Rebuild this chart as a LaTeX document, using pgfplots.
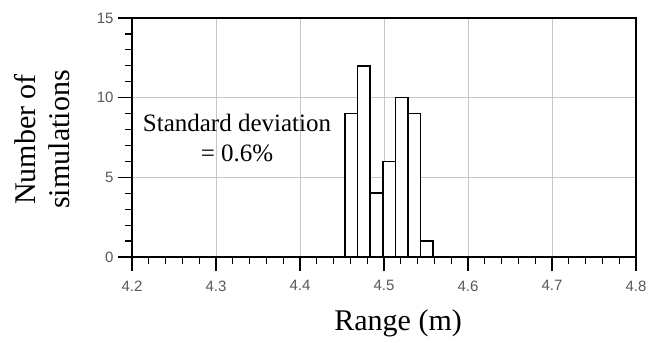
\documentclass[border=0pt]{standalone}
\usepackage{fontspec}
\setmainfont{Liberation Serif}
\newfontfamily\tickfont{Liberation Sans}
\usepackage{pgfplots}
\pgfplotsset{compat=1.18}
\begin{document}
\begin{tikzpicture}
\begin{axis}[
  scale only axis,
  width=504bp, height=239bp,
  xmin=4.2, xmax=4.8, ymin=0, ymax=15,
  xtick={4.2,4.3,4.4,4.5,4.6,4.7,4.8},
  xticklabels={4.2,4.3,4.4,4.5,4.6,4.7,4.8},
  ytick={0,5,10,15},
  yticklabels={0,5,10,15},
  minor x tick num=4, minor y tick num=4,
  tick align=outside,
  major tick length=14bp, minor tick length=7bp,
  xtick pos=lower, ytick pos=left,
  axis line style={line width=1.4bp, black},
  every tick/.style={line width=1.2bp, black},
  grid=major,
  major grid style={line width=0.9bp, gray!45},
  ticklabel style={font=\tickfont\fontsize{15bp}{15bp}\selectfont, text=black!65},
  xticklabel style={yshift=-6bp},
  yticklabel style={xshift=-1bp},
  xlabel={Range (m)},
  ylabel={Number of\\simulations},
  xlabel style={font=\fontsize{30bp}{34bp}\selectfont, at={(axis description cs:0.528,0)}, anchor=center, yshift=-66bp},
  ylabel style={font=\fontsize{30bp}{34bp}\selectfont, align=center, at={(axis description cs:0,0.5)}, anchor=center, yshift=90bp, xshift=-2bp},
  clip=false,
]
\addplot[ybar interval, draw=black, fill=white, line width=1.6bp] coordinates {
(4.4535,9) (4.4685,12) (4.4835,4) (4.4985,6) (4.5135,10) (4.5285,9) (4.5435,1) (4.5585,1)};
\node[align=center, font=\fontsize{25bp}{30bp}\selectfont, inner sep=1bp] at (axis cs:4.325,7.47) {Standard deviation\\= 0.6\%};
\end{axis}
\pgfresetboundingbox
\path[use as bounding box] ([xshift=-132bp,yshift=-85bp]current axis.south west) rectangle ([xshift=28bp,yshift=18bp]current axis.north east);
\end{tikzpicture}
\end{document}
